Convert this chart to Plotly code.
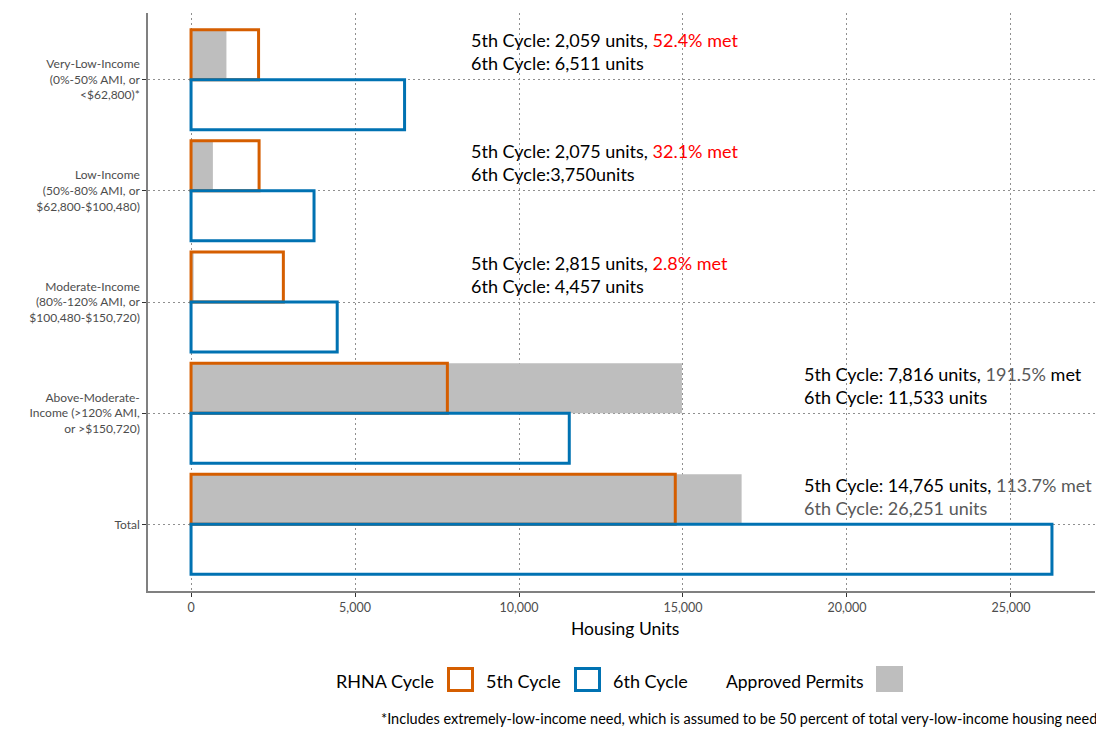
import plotly.graph_objects as go

# ---- data ----
categories = [
    "Very-Low-Income<br>(0%-50% AMI, or<br>&lt;$62,800)*",
    "Low-Income<br>(50%-80% AMI, or<br>$62,800-$100,480)",
    "Moderate-Income<br>(80%-120% AMI, or<br>$100,480-$150,720)",
    "Above-Moderate-<br>Income (&gt;120% AMI,<br>or &gt;$150,720)",
    "Total",
]
cycle5 = [2059, 2075, 2815, 7816, 14765]
cycle6 = [6511, 3750, 4457, 11533, 26251]
pct_met = [52.4, 32.1, 2.8, 191.5, 113.7]
permits = [1079, 666, 79, 14968, 16788]
x_ticks = [0, 5000, 10000, 15000, 20000, 25000]

ORANGE = "#D55E00"
BLUE = "#0072B2"
GREY = "#BEBEBE"
FONT = "Lato"

# page body has an 8px margin; work in reference pixel coords and shift
OFF = 8
W, H = 1104 - OFF, 730 - OFF
PL, PR, PT, PB = 148 - OFF, 1095 - OFF, 13 - OFF, 591 - OFF

fig = go.Figure()
fig.add_trace(go.Bar(y=categories, x=permits, orientation="h", width=0.45, offset=-0.45,
                     marker=dict(color=GREY, line=dict(width=0)), showlegend=False))
fig.add_trace(go.Bar(y=categories, x=cycle5, orientation="h", width=0.45, offset=-0.45,
                     marker=dict(color="rgba(0,0,0,0)", line=dict(color=ORANGE, width=3)),
                     showlegend=False))
fig.add_trace(go.Bar(y=categories, x=cycle6, orientation="h", width=0.45, offset=0,
                     marker=dict(color="rgba(0,0,0,0)", line=dict(color=BLUE, width=3)),
                     showlegend=False))

# ---- value annotations ----
RED = "#FF0000"
DGREY = "#595959"
label_x = [8475, 8475, 8475, 18630, 18630]
for i, cat in enumerate(categories):
    c5 = f"{cycle5[i]:,}"
    c6 = f"{cycle6[i]:,}"
    p = f"{pct_met[i]}%"
    if i < 3:
        line1 = f"5th Cycle: {c5} units, <span style='color:{RED}'>{p} met</span>"
    elif i == 3:
        line1 = f"5th Cycle: {c5} units, <span style='color:{DGREY}'>{p}</span> met"
    else:
        line1 = f"5th Cycle: {c5} units, <span style='color:{DGREY}'>{p} met</span>"
    if i == 1:
        line2 = f"6th Cycle:{c6}units"
    elif i == 4:
        line2 = f"<span style='color:{DGREY}'>6th Cycle: {c6} units</span>"
    else:
        line2 = f"6th Cycle: {c6} units"
    fig.add_annotation(x=label_x[i], y=cat, xref="x", yref="y", text=line1 + "<br>" + line2,
                       showarrow=False, xanchor="left", yanchor="middle", align="left",
                       yshift=28, font=dict(family=FONT, size=18, color="black"))


def px_x(px):
    return (px - OFF - PL) / (PR - PL)


def px_y(py):
    return (PB - (py - OFF)) / (PB - PT)


# x-axis title
fig.add_annotation(x=px_x(625), y=px_y(628), xref="paper", yref="paper", text="Housing Units",
                   showarrow=False, xanchor="center", yanchor="middle",
                   font=dict(family=FONT, size=17.5, color="black"))

# ---- manual legend ----
LY = 681
LFS = 18
fig.add_annotation(x=px_x(436), y=px_y(LY), xref="paper", yref="paper", text="RHNA Cycle",
                   showarrow=False, xanchor="right", yanchor="middle",
                   font=dict(family=FONT, size=LFS, color="black"))
legend_items = [(447, 474, ORANGE, "5th Cycle", 484), (574, 601, BLUE, "6th Cycle", 611)]
for x0, x1, col, name, tx in legend_items:
    fig.add_shape(type="rect", xref="paper", yref="paper",
                  x0=px_x(x0 + 1.5), x1=px_x(x1 - 1.5), y0=px_y(692 - 1.5), y1=px_y(667 + 1.5),
                  line=dict(color=col, width=3), fillcolor="white")
    fig.add_annotation(x=px_x(tx), y=px_y(LY), xref="paper", yref="paper", text=name,
                       showarrow=False, xanchor="left", yanchor="middle",
                       font=dict(family=FONT, size=LFS, color="black"))
fig.add_annotation(x=px_x(866), y=px_y(LY), xref="paper", yref="paper", text="Approved Permits",
                   showarrow=False, xanchor="right", yanchor="middle",
                   font=dict(family=FONT, size=17.5, color="black"))
fig.add_shape(type="rect", xref="paper", yref="paper",
              x0=px_x(876), x1=px_x(903), y0=px_y(692), y1=px_y(666),
              line=dict(width=0), fillcolor=GREY)

# footnote
fig.add_annotation(x=px_x(1099), y=px_y(718), xref="paper", yref="paper",
                   text="*Includes extremely-low-income need, which is assumed to be 50 percent of total very-low-income housing need",
                   showarrow=False, xanchor="right", yanchor="middle",
                   font=dict(family=FONT, size=14.5, color="black"))

GRID = dict(showgrid=True, gridcolor="#8f8f8f", griddash="1.5px,3.5px", gridwidth=1.2,
            zeroline=False, showline=True, linecolor="#808080", linewidth=1.5,
            ticks="outside", ticklen=4, tickcolor="#333333", tickwidth=1)

fig.update_layout(
    width=W, height=H,
    margin=dict(l=PL, r=W - PR, t=PT, b=H - PB),
    paper_bgcolor="white", plot_bgcolor="white",
    barmode="overlay",
    font=dict(family=FONT),
    xaxis=dict(range=[-1312.5, 27563.5], tickvals=x_ticks, tickformat=",",
               tickfont=dict(family=FONT, size=12.5, color="#4d4d4d"), **GRID),
    yaxis=dict(categoryorder="array", categoryarray=categories, range=[4.6, -0.6],
               tickfont=dict(family=FONT, size=12, color="#4d4d4d"), **GRID),
)

fig.write_html("out.html")
